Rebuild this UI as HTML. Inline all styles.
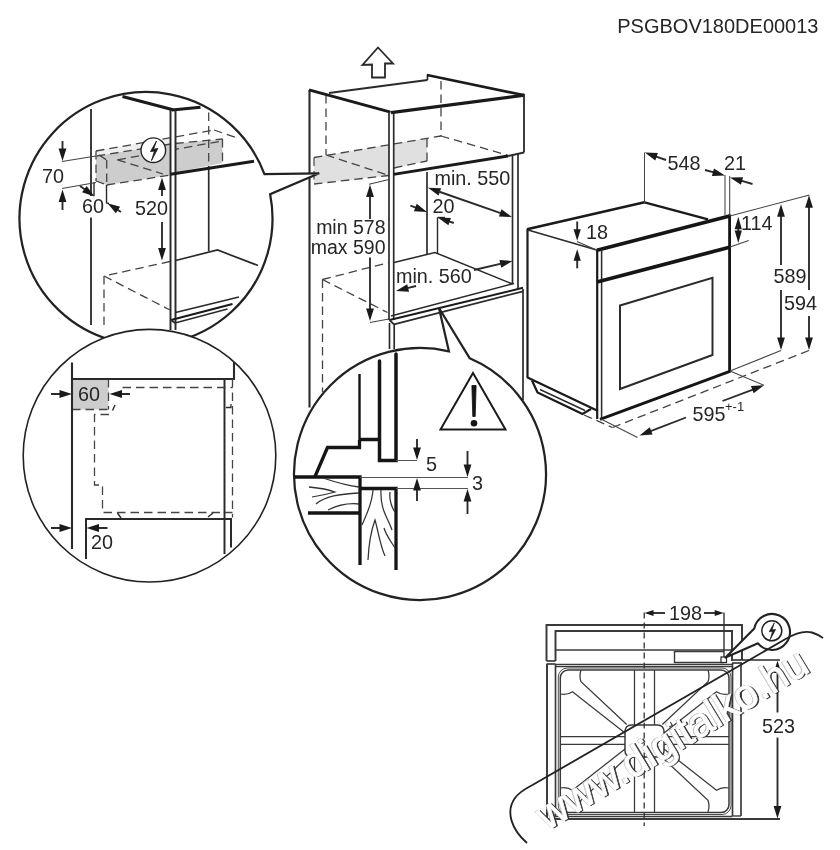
<!DOCTYPE html>
<html><head><meta charset="utf-8"><title>PSGBOV180DE00013</title>
<style>
html,body{margin:0;padding:0;background:#fff}
svg{display:block;filter:grayscale(1)}
text{font-family:"Liberation Sans",Arial,sans-serif}
</style></head><body>
<svg width="840" height="850" viewBox="0 0 840 850">
<rect x="0" y="0" width="840" height="850" fill="#fff"/>
<text x="818.5" y="33.3" font-size="20" text-anchor="end" fill="#262626" >PSGBOV180DE00013</text>
<polygon points="378,47.5 393,63.5 385,63.5 385,77.5 372,77.5 372,64.5 362.5,65" fill="none" stroke="#2a2a2a" stroke-width="1.82" stroke-linejoin="miter"/>
<polygon points="314,157.5 389,144.5 389,175.5 314,184" fill="#e0e0e0" stroke="none" stroke-width="0" stroke-linejoin="miter"/>
<polygon points="394,143.5 427,138.5 427,161 394,168" fill="#e0e0e0" stroke="none" stroke-width="0" stroke-linejoin="miter"/>
<line x1="314" y1="157.5" x2="441" y2="136" stroke="#444" stroke-width="1.3" stroke-dasharray="8.5 5" stroke-linecap="butt"/>
<line x1="314" y1="184" x2="389" y2="175.5" stroke="#444" stroke-width="1.3" stroke-dasharray="8.5 5" stroke-linecap="butt"/>
<line x1="314" y1="157.5" x2="314" y2="184" stroke="#555" stroke-width="1.3" stroke-dasharray="8.5 5" stroke-linecap="butt"/>
<line x1="427" y1="139" x2="427" y2="161" stroke="#444" stroke-width="1.3" stroke-dasharray="8.5 5" stroke-linecap="butt"/>
<line x1="394" y1="168" x2="427" y2="161" stroke="#444" stroke-width="1.3" stroke-dasharray="8.5 5" stroke-linecap="butt"/>
<line x1="326" y1="155" x2="389" y2="175.5" stroke="#444" stroke-width="1.3" stroke-dasharray="8.5 5" stroke-linecap="butt"/>
<line x1="441" y1="136" x2="507" y2="155" stroke="#444" stroke-width="1.3" stroke-dasharray="8.5 5" stroke-linecap="butt"/>
<line x1="326" y1="95" x2="326" y2="155" stroke="#444" stroke-width="1.3" stroke-dasharray="8.5 5" stroke-linecap="butt"/>
<line x1="441" y1="81" x2="441" y2="136" stroke="#444" stroke-width="1.3" stroke-dasharray="8.5 5" stroke-linecap="butt"/>
<line x1="309.5" y1="90" x2="309.5" y2="407.5" stroke="#2a2a2a" stroke-width="2.1" stroke-linecap="butt"/>
<line x1="309" y1="89.8" x2="390.5" y2="112.2" stroke="#1a1a1a" stroke-width="2.86" stroke-linecap="butt"/>
<line x1="329" y1="93" x2="427.5" y2="80" stroke="#2a2a2a" stroke-width="2.1" stroke-linecap="butt"/>
<line x1="427.5" y1="74.5" x2="427.5" y2="80" stroke="#2a2a2a" stroke-width="1.68" stroke-linecap="butt"/>
<line x1="427" y1="75" x2="524.5" y2="95.3" stroke="#1a1a1a" stroke-width="2.64" stroke-linecap="butt"/>
<line x1="391" y1="112.6" x2="524.5" y2="95.2" stroke="#1a1a1a" stroke-width="3.3" stroke-linecap="butt"/>
<line x1="524" y1="95" x2="524" y2="152.5" stroke="#2a2a2a" stroke-width="1.82" stroke-linecap="butt"/>
<line x1="389" y1="112" x2="389" y2="320" stroke="#2a2a2a" stroke-width="1.68" stroke-linecap="butt"/>
<line x1="393.7" y1="113" x2="393.7" y2="320" stroke="#2a2a2a" stroke-width="1.68" stroke-linecap="butt"/>
<line x1="389.5" y1="323" x2="389.5" y2="349" stroke="#2a2a2a" stroke-width="1.68" stroke-linecap="butt"/>
<line x1="394.2" y1="324" x2="394.2" y2="349" stroke="#2a2a2a" stroke-width="1.68" stroke-linecap="butt"/>
<line x1="393.5" y1="174.3" x2="508" y2="156" stroke="#1a1a1a" stroke-width="2.86" stroke-linecap="butt"/>
<line x1="508" y1="156" x2="524" y2="152.5" stroke="#2a2a2a" stroke-width="1.96" stroke-linecap="butt"/>
<line x1="512.5" y1="155" x2="512.5" y2="284" stroke="#2a2a2a" stroke-width="1.68" stroke-linecap="butt"/>
<line x1="518" y1="154" x2="518" y2="289" stroke="#2a2a2a" stroke-width="1.68" stroke-linecap="butt"/>
<line x1="523" y1="289" x2="523" y2="400" stroke="#2a2a2a" stroke-width="1.68" stroke-linecap="butt"/>
<line x1="427" y1="172" x2="427" y2="254" stroke="#2a2a2a" stroke-width="1.68" stroke-linecap="butt"/>
<line x1="437.5" y1="217.5" x2="437.5" y2="254" stroke="#2a2a2a" stroke-width="1.4" stroke-linecap="butt"/>
<line x1="437.5" y1="217.5" x2="445" y2="217.5" stroke="#2a2a2a" stroke-width="1.4" stroke-linecap="butt"/>
<polyline points="394,262.5 435,252.5 512.5,284" fill="none" stroke="#2a2a2a" stroke-width="1.54" stroke-linejoin="miter"/>
<line x1="391" y1="316" x2="514" y2="283.5" stroke="#2a2a2a" stroke-width="1.4" stroke-linecap="butt"/>
<line x1="389.5" y1="320" x2="523" y2="287.8" stroke="#1a1a1a" stroke-width="1.98" stroke-linecap="butt"/>
<line x1="394" y1="324.3" x2="523" y2="291.3" stroke="#2a2a2a" stroke-width="1.82" stroke-linecap="butt"/>
<line x1="389.5" y1="320" x2="394" y2="324.3" stroke="#2a2a2a" stroke-width="1.82" stroke-linecap="butt"/>
<line x1="322.5" y1="279.5" x2="389" y2="262.5" stroke="#444" stroke-width="1.3" stroke-dasharray="8.5 5" stroke-linecap="butt"/>
<line x1="322.5" y1="279.5" x2="387.5" y2="312.5" stroke="#444" stroke-width="1.3" stroke-dasharray="8.5 5" stroke-linecap="butt"/>
<line x1="322.5" y1="279.5" x2="322.5" y2="392" stroke="#444" stroke-width="1.3" stroke-dasharray="8.5 5" stroke-linecap="butt"/>
<line x1="369" y1="184.3" x2="389" y2="179.5" stroke="#444" stroke-width="1.05" stroke-linecap="butt"/>
<line x1="370" y1="322.5" x2="389" y2="319" stroke="#444" stroke-width="1.05" stroke-linecap="butt"/>
<line x1="370" y1="219" x2="370.0" y2="195.0" stroke="#2a2a2a" stroke-width="1.87" stroke-linecap="butt"/>
<polygon points="370.00,184.50 373.90,197.00 366.10,197.00" fill="#1a1a1a"/>
<line x1="370" y1="257.5" x2="370.0" y2="310.5" stroke="#2a2a2a" stroke-width="1.87" stroke-linecap="butt"/>
<polygon points="370.00,321.00 366.10,308.50 373.90,308.50" fill="#1a1a1a"/>
<text x="385.5" y="234" font-size="19.5" text-anchor="end" fill="#262626" >min 578</text>
<text x="385.5" y="254" font-size="19.5" text-anchor="end" fill="#262626" >max 590</text>
<text x="434.5" y="184.7" font-size="19.8" text-anchor="start" fill="#262626" >min. 550</text>
<polygon points="428.00,187.80 441.09,188.22 438.53,195.59" fill="#1a1a1a"/>
<line x1="437.92" y1="191.25" x2="502.08" y2="213.55" stroke="#2a2a2a" stroke-width="1.87" stroke-linecap="butt"/>
<polygon points="512.00,217.00 498.91,216.58 501.47,209.21" fill="#1a1a1a"/>
<text x="432.5" y="212.5" font-size="19.8" text-anchor="start" fill="#262626" >20</text>
<line x1="410.4" y1="205.6" x2="417.2" y2="208.22" stroke="#2a2a2a" stroke-width="1.87" stroke-linecap="butt"/>
<polygon points="427.00,212.00 413.93,211.14 416.74,203.86" fill="#1a1a1a"/>
<line x1="453.8" y1="223" x2="447.75" y2="220.96" stroke="#2a2a2a" stroke-width="1.87" stroke-linecap="butt"/>
<polygon points="437.80,217.60 450.89,217.90 448.40,225.29" fill="#1a1a1a"/>
<text x="396" y="282.5" font-size="19.8" text-anchor="start" fill="#262626" >min. 560</text>
<line x1="416" y1="286" x2="406.19" y2="288.45" stroke="#2a2a2a" stroke-width="1.87" stroke-linecap="butt"/>
<polygon points="396.00,291.00 407.18,284.18 409.07,291.75" fill="#1a1a1a"/>
<line x1="474" y1="270" x2="502.28" y2="263.39" stroke="#2a2a2a" stroke-width="1.87" stroke-linecap="butt"/>
<polygon points="512.50,261.00 501.22,267.64 499.44,260.05" fill="#1a1a1a"/>
<line x1="527.5" y1="229" x2="527.5" y2="378" stroke="#1a1a1a" stroke-width="2.2" stroke-linecap="butt"/>
<line x1="527" y1="229.3" x2="644.5" y2="202.3" stroke="#1a1a1a" stroke-width="2.64" stroke-linecap="butt"/>
<line x1="644.5" y1="202.3" x2="708" y2="219.3" stroke="#1a1a1a" stroke-width="2.42" stroke-linecap="butt"/>
<line x1="528" y1="230" x2="597.5" y2="250.3" stroke="#2a2a2a" stroke-width="1.54" stroke-linecap="butt"/>
<line x1="597" y1="250.3" x2="730.5" y2="215.8" stroke="#151515" stroke-width="3.74" stroke-linecap="butt"/>
<line x1="597.2" y1="250" x2="597.2" y2="419" stroke="#1a1a1a" stroke-width="2.2" stroke-linecap="butt"/>
<line x1="601.6" y1="250" x2="601.6" y2="419" stroke="#2a2a2a" stroke-width="1.54" stroke-linecap="butt"/>
<line x1="597" y1="282" x2="730.5" y2="247" stroke="#151515" stroke-width="3.74" stroke-linecap="butt"/>
<line x1="729.6" y1="214.5" x2="729.6" y2="371.5" stroke="#151515" stroke-width="2.86" stroke-linecap="butt"/>
<line x1="600" y1="419.3" x2="730.5" y2="371.2" stroke="#151515" stroke-width="2.86" stroke-linecap="butt"/>
<polygon points="620,305.5 712.5,277.8 712.5,355 620,389" fill="none" stroke="#2a2a2a" stroke-width="1.96" stroke-linejoin="miter"/>
<line x1="527.5" y1="377.5" x2="597" y2="410.5" stroke="#1a1a1a" stroke-width="2.2" stroke-linecap="butt"/>
<polyline points="532,380.5 537.5,392.5 582.5,414 591,409" fill="none" stroke="#1a1a1a" stroke-width="2.2" stroke-linejoin="miter"/>
<line x1="540" y1="389.5" x2="585" y2="410.5" stroke="#2a2a2a" stroke-width="1.4" stroke-linecap="butt"/>
<line x1="584" y1="415" x2="612.5" y2="427.5" stroke="#444" stroke-width="1.3" stroke-dasharray="8.5 5" stroke-linecap="butt"/>
<line x1="612.5" y1="427.5" x2="809" y2="350.5" stroke="#444" stroke-width="1.3" stroke-dasharray="8.5 5" stroke-linecap="butt"/>
<line x1="601" y1="419" x2="637.5" y2="437.5" stroke="#444" stroke-width="1.05" stroke-linecap="butt"/>
<line x1="730" y1="371" x2="764" y2="385.3" stroke="#444" stroke-width="1.05" stroke-linecap="butt"/>
<line x1="730" y1="371" x2="781" y2="350.5" stroke="#444" stroke-width="1.05" stroke-linecap="butt"/>
<line x1="730" y1="216" x2="809.5" y2="195" stroke="#444" stroke-width="1.05" stroke-linecap="butt"/>
<line x1="730" y1="247" x2="748.7" y2="240.6" stroke="#444" stroke-width="1.05" stroke-linecap="butt"/>
<line x1="644.5" y1="152.5" x2="644.5" y2="202" stroke="#444" stroke-width="1.05" stroke-linecap="butt"/>
<line x1="666" y1="160" x2="654.71" y2="156.06" stroke="#2a2a2a" stroke-width="1.87" stroke-linecap="butt"/>
<polygon points="644.80,152.60 657.89,153.04 655.32,160.40" fill="#1a1a1a"/>
<text x="667.5" y="169.5" font-size="19.8" text-anchor="start" fill="#262626" >548</text>
<line x1="705" y1="170" x2="714.88" y2="172.72" stroke="#2a2a2a" stroke-width="1.87" stroke-linecap="butt"/>
<polygon points="725.00,175.50 711.91,175.95 713.98,168.43" fill="#1a1a1a"/>
<line x1="725" y1="175" x2="725" y2="215.5" stroke="#444" stroke-width="1.05" stroke-linecap="butt"/>
<text x="724" y="169.5" font-size="19.8" text-anchor="start" fill="#262626" >21</text>
<line x1="729.7" y1="176" x2="729.7" y2="216" stroke="#444" stroke-width="1.05" stroke-linecap="butt"/>
<line x1="752.5" y1="184" x2="740.09" y2="180.41" stroke="#2a2a2a" stroke-width="1.87" stroke-linecap="butt"/>
<polygon points="730.00,177.50 743.09,177.22 740.93,184.72" fill="#1a1a1a"/>
<line x1="577.2" y1="221.5" x2="577.2" y2="231.3" stroke="#2a2a2a" stroke-width="1.87" stroke-linecap="butt"/>
<polygon points="577.20,240.80 573.60,229.30 580.80,229.30" fill="#1a1a1a"/>
<line x1="577.2" y1="268.3" x2="577.2" y2="258.7" stroke="#2a2a2a" stroke-width="1.87" stroke-linecap="butt"/>
<polygon points="577.20,249.20 580.80,260.70 573.60,260.70" fill="#1a1a1a"/>
<line x1="577" y1="241.5" x2="596" y2="249.7" stroke="#444" stroke-width="1.05" stroke-linecap="butt"/>
<text x="586" y="239.2" font-size="19.8" text-anchor="start" fill="#262626" >18</text>
<line x1="738.3" y1="230" x2="738.3" y2="227.3" stroke="#2a2a2a" stroke-width="1.87" stroke-linecap="butt"/>
<polygon points="738.30,216.80 741.90,229.30 734.70,229.30" fill="#1a1a1a"/>
<line x1="738.3" y1="230" x2="738.3" y2="232.5" stroke="#2a2a2a" stroke-width="1.87" stroke-linecap="butt"/>
<polygon points="738.30,243.00 734.70,230.50 741.90,230.50" fill="#1a1a1a"/>
<text x="741" y="230" font-size="19.8" text-anchor="start" fill="#262626" >114</text>
<line x1="781" y1="265" x2="781.0" y2="214.8" stroke="#2a2a2a" stroke-width="1.87" stroke-linecap="butt"/>
<polygon points="781.00,204.30 784.90,216.80 777.10,216.80" fill="#1a1a1a"/>
<line x1="781" y1="290" x2="781.0" y2="339.5" stroke="#2a2a2a" stroke-width="1.87" stroke-linecap="butt"/>
<polygon points="781.00,350.00 777.10,337.50 784.90,337.50" fill="#1a1a1a"/>
<text x="773.5" y="282.5" font-size="19.8" text-anchor="start" fill="#262626" >589</text>
<line x1="809" y1="290" x2="809.0" y2="205.8" stroke="#2a2a2a" stroke-width="1.87" stroke-linecap="butt"/>
<polygon points="809.00,195.30 812.90,207.80 805.10,207.80" fill="#1a1a1a"/>
<line x1="809" y1="316" x2="809.0" y2="339.5" stroke="#2a2a2a" stroke-width="1.87" stroke-linecap="butt"/>
<polygon points="809.00,350.00 805.10,337.50 812.90,337.50" fill="#1a1a1a"/>
<text x="784" y="310" font-size="19.8" text-anchor="start" fill="#262626" >594</text>
<line x1="686" y1="417.5" x2="649.29" y2="431.71" stroke="#2a2a2a" stroke-width="1.87" stroke-linecap="butt"/>
<polygon points="639.50,435.50 649.75,427.35 652.56,434.62" fill="#1a1a1a"/>
<line x1="722.5" y1="401" x2="754.18" y2="389.02" stroke="#2a2a2a" stroke-width="1.87" stroke-linecap="butt"/>
<polygon points="764.00,385.30 753.69,393.37 750.93,386.08" fill="#1a1a1a"/>
<text x="692.5" y="421" font-size="19.8" text-anchor="start" fill="#262626" >595</text>
<text x="725" y="411.3" font-size="13" text-anchor="start" fill="#262626" >+-1</text>
<clipPath id="cp1"><circle cx="146" cy="218.5" r="126.5"/></clipPath>
<path d="M 264.45,174.1 A 126.5 126.5 0 1 0 270.14,194.17 L 319.2,173.3 Z" fill="#fff" stroke="#222" stroke-width="2.24" />
<g clip-path="url(#cp1)">
<polygon points="96,156 106.7,160 106.7,185 96,181" fill="#cdcdcd" stroke="none" stroke-width="0" stroke-linejoin="miter"/>
<polygon points="96,156 171,143.5 171,175 106.7,185 106.7,160" fill="#cdcdcd" stroke="none" stroke-width="0" stroke-linejoin="miter"/>
<polygon points="175.3,143.5 222.5,139 222.5,163 175.3,172.5" fill="#cdcdcd" stroke="none" stroke-width="0" stroke-linejoin="miter"/>
<polygon points="96,151 171,137.5 171,143.5 96,156" fill="#efefef" stroke="none" stroke-width="0" stroke-linejoin="miter"/>
<line x1="96" y1="151" x2="214" y2="130" stroke="#444" stroke-width="1.3" stroke-dasharray="8.5 5" stroke-linecap="butt"/>
<line x1="214" y1="130" x2="236" y2="137.5" stroke="#444" stroke-width="1.3" stroke-dasharray="8.5 5" stroke-linecap="butt"/>
<line x1="96.7" y1="156" x2="171" y2="144" stroke="#444" stroke-width="1.3" stroke-dasharray="8.5 5" stroke-linecap="butt"/>
<line x1="117.5" y1="159.8" x2="222" y2="141" stroke="#444" stroke-width="1.3" stroke-dasharray="8.5 5" stroke-linecap="butt"/>
<line x1="117.5" y1="159.8" x2="163" y2="174" stroke="#444" stroke-width="1.3" stroke-dasharray="8.5 5" stroke-linecap="butt"/>
<line x1="99" y1="155" x2="106.7" y2="160" stroke="#444" stroke-width="1.3" stroke-dasharray="8.5 5" stroke-linecap="butt"/>
<line x1="106.7" y1="160" x2="106.7" y2="185" stroke="#444" stroke-width="1.3" stroke-dasharray="8.5 5" stroke-linecap="butt"/>
<line x1="96" y1="151" x2="96" y2="181" stroke="#444" stroke-width="1.3" stroke-dasharray="8.5 5" stroke-linecap="butt"/>
<line x1="106.7" y1="185" x2="171" y2="175" stroke="#444" stroke-width="1.3" stroke-dasharray="8.5 5" stroke-linecap="butt"/>
<line x1="96" y1="181" x2="106.7" y2="185" stroke="#444" stroke-width="1.3" stroke-dasharray="8.5 5" stroke-linecap="butt"/>
<line x1="175.3" y1="143.5" x2="222.5" y2="139" stroke="#444" stroke-width="1.3" stroke-dasharray="8.5 5" stroke-linecap="butt"/>
<line x1="222.5" y1="139" x2="222.5" y2="163" stroke="#444" stroke-width="1.3" stroke-dasharray="8.5 5" stroke-linecap="butt"/>
<line x1="208.7" y1="112.5" x2="208.7" y2="166" stroke="#444" stroke-width="1.3" stroke-dasharray="8.5 5" stroke-linecap="butt"/>
<rect x="171" y="111" width="4" height="215" fill="#fff"/>
<line x1="91" y1="109" x2="91" y2="196" stroke="#2a2a2a" stroke-width="1.82" stroke-linecap="butt"/>
<line x1="91" y1="217.5" x2="91" y2="325" stroke="#2a2a2a" stroke-width="1.82" stroke-linecap="butt"/>
<line x1="122.5" y1="96.5" x2="173" y2="109.8" stroke="#1a1a1a" stroke-width="3.08" stroke-linecap="butt"/>
<line x1="172" y1="110" x2="200.5" y2="107.3" stroke="#1a1a1a" stroke-width="3.08" stroke-linecap="butt"/>
<line x1="170.5" y1="110" x2="170.5" y2="330" stroke="#2a2a2a" stroke-width="1.96" stroke-linecap="butt"/>
<line x1="175.5" y1="110" x2="175.5" y2="330" stroke="#2a2a2a" stroke-width="1.96" stroke-linecap="butt"/>
<line x1="208.7" y1="166" x2="208.7" y2="251" stroke="#2a2a2a" stroke-width="1.68" stroke-linecap="butt"/>
<line x1="170.5" y1="174.3" x2="254" y2="161.3" stroke="#1a1a1a" stroke-width="3.08" stroke-linecap="butt"/>
<polyline points="175.5,260.5 217.5,250 258,265.5" fill="none" stroke="#2a2a2a" stroke-width="1.68" stroke-linejoin="miter"/>
<line x1="170" y1="261.5" x2="104" y2="276" stroke="#444" stroke-width="1.3" stroke-dasharray="8.5 5" stroke-linecap="butt"/>
<line x1="104" y1="276" x2="170" y2="310" stroke="#444" stroke-width="1.3" stroke-dasharray="8.5 5" stroke-linecap="butt"/>
<line x1="104" y1="276" x2="104" y2="325" stroke="#444" stroke-width="1.3" stroke-dasharray="8.5 5" stroke-linecap="butt"/>
<line x1="175.5" y1="312.5" x2="239" y2="297" stroke="#2a2a2a" stroke-width="1.68" stroke-linecap="butt"/>
<line x1="171" y1="320" x2="232.5" y2="304" stroke="#1a1a1a" stroke-width="2.24" stroke-linecap="butt"/>
<line x1="175" y1="323" x2="227.5" y2="309" stroke="#2a2a2a" stroke-width="1.68" stroke-linecap="butt"/>
<line x1="171" y1="320" x2="175" y2="323" stroke="#2a2a2a" stroke-width="1.68" stroke-linecap="butt"/>
<line x1="62" y1="161.5" x2="96" y2="156" stroke="#444" stroke-width="1.26" stroke-linecap="butt"/>
<line x1="62" y1="188.5" x2="96" y2="182.5" stroke="#444" stroke-width="1.26" stroke-linecap="butt"/>
<line x1="62.5" y1="141" x2="62.5" y2="150.5" stroke="#2a2a2a" stroke-width="1.87" stroke-linecap="butt"/>
<polygon points="62.50,161.00 58.60,148.50 66.40,148.50" fill="#1a1a1a"/>
<line x1="62.5" y1="210" x2="62.5" y2="200.0" stroke="#2a2a2a" stroke-width="1.87" stroke-linecap="butt"/>
<polygon points="62.50,189.50 66.40,202.00 58.60,202.00" fill="#1a1a1a"/>
<text x="42" y="183" font-size="19.8" text-anchor="start" fill="#262626" >70</text>
<line x1="94" y1="182.5" x2="94" y2="196" stroke="#2a2a2a" stroke-width="1.4" stroke-linecap="butt"/>
<polyline points="106.5,185 106.5,203 109,203.5" fill="none" stroke="#2a2a2a" stroke-width="1.4" stroke-linejoin="miter"/>
<line x1="80" y1="186" x2="86.0" y2="190.34" stroke="#2a2a2a" stroke-width="1.87" stroke-linecap="butt"/>
<polygon points="94.50,196.50 82.09,192.33 86.66,186.01" fill="#1a1a1a"/>
<line x1="121" y1="212" x2="116.33" y2="208.99" stroke="#2a2a2a" stroke-width="1.87" stroke-linecap="butt"/>
<polygon points="107.50,203.30 120.12,206.79 115.89,213.35" fill="#1a1a1a"/>
<text x="82" y="213" font-size="19.8" text-anchor="start" fill="#262626" >60</text>
<line x1="162" y1="196" x2="162.0" y2="188.0" stroke="#2a2a2a" stroke-width="1.87" stroke-linecap="butt"/>
<polygon points="162.00,177.50 165.90,190.00 158.10,190.00" fill="#1a1a1a"/>
<line x1="162" y1="222" x2="162.0" y2="250.0" stroke="#2a2a2a" stroke-width="1.87" stroke-linecap="butt"/>
<polygon points="162.00,260.50 158.10,248.00 165.90,248.00" fill="#1a1a1a"/>
<text x="135" y="215" font-size="19.8" text-anchor="start" fill="#262626" >520</text>
<circle cx="153.3" cy="150.2" r="12.3" fill="#fff" stroke="#222" stroke-width="1.4"/>
<polygon points="156.5,141 150.5,151.5 154.5,151 151.5,160.5 157.8,148.5 153.5,149.3" fill="#1a1a1a" stroke="#1a1a1a" stroke-width="0.84" stroke-linejoin="miter"/>
</g>
<clipPath id="cp2"><circle cx="149.5" cy="455.7" r="126.3"/></clipPath>
<circle cx="149.5" cy="455.7" r="126.3" fill="#fff" stroke="#222" stroke-width="1.6"/>
<g clip-path="url(#cp2)">
<rect x="72" y="379" width="36.5" height="30.5" fill="#cdcdcd"/>
<line x1="108.5" y1="379" x2="108.5" y2="409.5" stroke="#444" stroke-width="1.3" stroke-dasharray="8.5 5" stroke-linecap="butt"/>
<line x1="72" y1="409.5" x2="108.5" y2="409.5" stroke="#444" stroke-width="1.3" stroke-dasharray="8.5 5" stroke-linecap="butt"/>
<line x1="72" y1="362.5" x2="72" y2="549" stroke="#2a2a2a" stroke-width="2.1" stroke-linecap="butt"/>
<polyline points="72,379 234,379 234,360" fill="none" stroke="#2a2a2a" stroke-width="2.1" stroke-linejoin="miter"/>
<line x1="224.5" y1="379" x2="224.5" y2="554" stroke="#2a2a2a" stroke-width="1.96" stroke-linecap="butt"/>
<line x1="122.5" y1="387.5" x2="232.5" y2="387.5" stroke="#444" stroke-width="1.3" stroke-dasharray="8.5 5" stroke-linecap="butt"/>
<line x1="232.5" y1="379" x2="232.5" y2="517.5" stroke="#444" stroke-width="1.3" stroke-dasharray="8.5 5" stroke-linecap="butt"/>
<polyline points="226,407.5 231,407.5 231,404" fill="none" stroke="#2a2a2a" stroke-width="1.26" stroke-linejoin="miter"/>
<line x1="115" y1="405" x2="112.5" y2="410.5" stroke="#2a2a2a" stroke-width="1.4" stroke-linecap="butt"/>
<polyline points="109,414.5 94.5,414.5 94.5,485 102.5,485 102.5,512.5 232.5,512.5" fill="none" stroke="#444" stroke-width="1.3" stroke-dasharray="8.5 5" stroke-linejoin="miter"/>
<line x1="117.5" y1="513" x2="121" y2="518" stroke="#2a2a2a" stroke-width="1.4" stroke-linecap="butt"/>
<line x1="213" y1="513" x2="208" y2="517" stroke="#2a2a2a" stroke-width="1.4" stroke-linecap="butt"/>
<polyline points="86,559 86,519 231,519 231,547.5" fill="none" stroke="#2a2a2a" stroke-width="1.96" stroke-linejoin="miter"/>
<line x1="51" y1="394" x2="61.5" y2="394.0" stroke="#2a2a2a" stroke-width="1.87" stroke-linecap="butt"/>
<polygon points="72.00,394.00 59.50,397.90 59.50,390.10" fill="#1a1a1a"/>
<line x1="130" y1="394" x2="120.0" y2="394.0" stroke="#2a2a2a" stroke-width="1.87" stroke-linecap="butt"/>
<polygon points="109.50,394.00 122.00,390.10 122.00,397.90" fill="#1a1a1a"/>
<text x="78" y="400.5" font-size="19.8" text-anchor="start" fill="#262626" >60</text>
<line x1="51" y1="528" x2="61.5" y2="528.0" stroke="#2a2a2a" stroke-width="1.87" stroke-linecap="butt"/>
<polygon points="72.00,528.00 59.50,531.90 59.50,524.10" fill="#1a1a1a"/>
<line x1="107.5" y1="528" x2="97.0" y2="528.0" stroke="#2a2a2a" stroke-width="1.87" stroke-linecap="butt"/>
<polygon points="86.50,528.00 99.00,524.10 99.00,531.90" fill="#1a1a1a"/>
<text x="91" y="549" font-size="19.8" text-anchor="start" fill="#262626" >20</text>
</g>
<clipPath id="cp3"><circle cx="420" cy="474" r="126"/></clipPath>
<path d="M 469.76,358.24 A 126 126 0 1 1 448.91,351.36 L 439,308 Z" fill="#fff" stroke="#222" stroke-width="2.24" />
<g clip-path="url(#cp3)">
<polyline points="359.5,374 359.5,447.5" fill="none" stroke="#151515" stroke-width="2.42" stroke-linejoin="miter"/>
<polyline points="359.5,440 359.5,447.5 327.5,447.5 315,476.5" fill="none" stroke="#151515" stroke-width="3.3" stroke-linejoin="miter"/>
<line x1="359.5" y1="439.5" x2="379.5" y2="439.5" stroke="#151515" stroke-width="3.3" stroke-linecap="butt"/>
<polyline points="379.5,361 379.5,460.5 396,460.5 396,354" fill="none" stroke="#151515" stroke-width="3.5" stroke-linecap="round"/>
<polyline points="294,477 360,477 360,565" fill="none" stroke="#151515" stroke-width="3.3" stroke-linejoin="miter"/>
<line x1="308" y1="513" x2="360" y2="513" stroke="#151515" stroke-width="3.3" stroke-linecap="butt"/>
<polyline points="360,488.5 396,488.5 396,570" fill="none" stroke="#151515" stroke-width="3.3" stroke-linejoin="miter"/>
<line x1="396" y1="460.5" x2="417" y2="460.5" stroke="#555" stroke-width="1.12" stroke-linecap="butt"/>
<line x1="360" y1="477.5" x2="468" y2="477.5" stroke="#555" stroke-width="1.12" stroke-linecap="butt"/>
<line x1="396" y1="488.5" x2="468" y2="488.5" stroke="#555" stroke-width="1.12" stroke-linecap="butt"/>
<path d="M 323,478 C 335,482 350,486 359,487" fill="none" stroke="#333" stroke-width="1.26" />
<path d="M 309,487 C 320,488 330,490 335,492 C 328,494 318,496 312,497" fill="none" stroke="#333" stroke-width="1.26" />
<path d="M 316,504 C 325,496 340,494 359,493" fill="none" stroke="#333" stroke-width="1.26" />
<path d="M 328,510 C 338,505 350,503 359,504" fill="none" stroke="#333" stroke-width="1.26" />
<path d="M 373,490 C 372,505 366,515 362,525" fill="none" stroke="#333" stroke-width="1.26" />
<path d="M 381,490 C 380,510 388,518 392,530" fill="none" stroke="#333" stroke-width="1.26" />
<path d="M 390,492 C 389,500 392,508 395,512" fill="none" stroke="#333" stroke-width="1.26" />
<path d="M 368,560 C 369,540 372,528 375,520 C 378,530 380,545 385,556" fill="none" stroke="#333" stroke-width="1.26" />
<path d="M 395,548 C 390,540 386,535 384,528" fill="none" stroke="#333" stroke-width="1.26" />
<line x1="417" y1="439" x2="417.0" y2="449.5" stroke="#2a2a2a" stroke-width="1.87" stroke-linecap="butt"/>
<polygon points="417.00,460.00 413.10,447.50 420.90,447.50" fill="#1a1a1a"/>
<line x1="417" y1="501" x2="417.0" y2="488.5" stroke="#2a2a2a" stroke-width="1.87" stroke-linecap="butt"/>
<polygon points="417.00,478.00 420.90,490.50 413.10,490.50" fill="#1a1a1a"/>
<line x1="467.5" y1="451" x2="467.5" y2="466.5" stroke="#2a2a2a" stroke-width="1.87" stroke-linecap="butt"/>
<polygon points="467.50,477.00 463.60,464.50 471.40,464.50" fill="#1a1a1a"/>
<line x1="467.5" y1="514" x2="467.5" y2="499.5" stroke="#2a2a2a" stroke-width="1.87" stroke-linecap="butt"/>
<polygon points="467.50,489.00 471.40,501.50 463.60,501.50" fill="#1a1a1a"/>
<text x="426" y="471" font-size="19.8" text-anchor="start" fill="#262626" >5</text>
<text x="472" y="489.5" font-size="19.8" text-anchor="start" fill="#262626" >3</text>
<polygon points="473,373 505.5,429.5 440.5,429.5" fill="none" stroke="#1a1a1a" stroke-width="1.98" stroke-linejoin="miter"/>
<polygon points="471.9,385.5 476.1,385.5 475.2,416.5 472.8,416.5" fill="#151515" stroke="#151515" stroke-width="0.84" stroke-linejoin="miter"/>
<circle cx="474" cy="423.3" r="3.3" fill="#151515"/>
</g>
<polyline points="546.5,661 546.5,625 742,625 742,660" fill="none" stroke="#3a3a3a" stroke-width="1.96" stroke-linejoin="miter"/>
<polyline points="555.5,661 555.5,631 732,631 732,661" fill="none" stroke="#3a3a3a" stroke-width="1.96" stroke-linejoin="miter"/>
<line x1="546.5" y1="661" x2="555.5" y2="661" stroke="#3a3a3a" stroke-width="1.68" stroke-linecap="butt"/>
<line x1="546.5" y1="664" x2="555.5" y2="664" stroke="#3a3a3a" stroke-width="1.68" stroke-linecap="butt"/>
<line x1="555.5" y1="650" x2="732" y2="650" stroke="#3a3a3a" stroke-width="1.26" stroke-linecap="butt"/>
<line x1="555.5" y1="664.3" x2="732" y2="664.3" stroke="#3a3a3a" stroke-width="1.26" stroke-linecap="butt"/>
<line x1="555.5" y1="666.5" x2="732" y2="666.5" stroke="#3a3a3a" stroke-width="1.26" stroke-linecap="butt"/>
<line x1="732" y1="660" x2="742" y2="660" stroke="#3a3a3a" stroke-width="1.68" stroke-linecap="butt"/>
<line x1="732" y1="663" x2="742" y2="663" stroke="#3a3a3a" stroke-width="1.68" stroke-linecap="butt"/>
<line x1="547" y1="664" x2="547" y2="819" stroke="#3a3a3a" stroke-width="1.96" stroke-linecap="butt"/>
<line x1="555.5" y1="664" x2="555.5" y2="817" stroke="#3a3a3a" stroke-width="1.68" stroke-linecap="butt"/>
<line x1="732.5" y1="663" x2="732.5" y2="816" stroke="#3a3a3a" stroke-width="1.68" stroke-linecap="butt"/>
<line x1="741" y1="663" x2="741" y2="816" stroke="#3a3a3a" stroke-width="1.68" stroke-linecap="butt"/>
<line x1="732.5" y1="816" x2="741" y2="816" stroke="#3a3a3a" stroke-width="1.4" stroke-linecap="butt"/>
<line x1="546.5" y1="819" x2="780" y2="819" stroke="#3a3a3a" stroke-width="1.96" stroke-linecap="butt"/>
<line x1="555.5" y1="816.5" x2="732.5" y2="816.5" stroke="#3a3a3a" stroke-width="1.26" stroke-linecap="butt"/>
<polyline points="724,651.5 674.5,651.5 674.5,662.5 724,662.5" fill="none" stroke="#3a3a3a" stroke-width="1.4" stroke-linejoin="miter"/>
<rect x="721" y="657" width="5.5" height="5.5" fill="#fff" stroke="#222" stroke-width="1.2"/>
<rect x="560.3" y="670" width="168.7" height="142.5" rx="8" ry="8" fill="none" stroke="#3a3a3a" stroke-width="1.5"/>
<rect x="558.3" y="668" width="172.7" height="146.5" rx="9" ry="9" fill="none" stroke="#3a3a3a" stroke-width="0.9"/>
<line x1="634.5" y1="670" x2="634.5" y2="725" stroke="#3a3a3a" stroke-width="1.26" stroke-linecap="butt"/>
<line x1="634.5" y1="757" x2="634.5" y2="812.5" stroke="#3a3a3a" stroke-width="1.26" stroke-linecap="butt"/>
<line x1="654.5" y1="670" x2="654.5" y2="725" stroke="#3a3a3a" stroke-width="1.26" stroke-linecap="butt"/>
<line x1="654.5" y1="757" x2="654.5" y2="812.5" stroke="#3a3a3a" stroke-width="1.26" stroke-linecap="butt"/>
<line x1="560.3" y1="736.7" x2="625" y2="736.7" stroke="#3a3a3a" stroke-width="1.26" stroke-linecap="butt"/>
<line x1="664" y1="736.7" x2="729" y2="736.7" stroke="#3a3a3a" stroke-width="1.26" stroke-linecap="butt"/>
<line x1="560.3" y1="744.3" x2="625" y2="744.3" stroke="#3a3a3a" stroke-width="1.26" stroke-linecap="butt"/>
<line x1="664" y1="744.3" x2="729" y2="744.3" stroke="#3a3a3a" stroke-width="1.26" stroke-linecap="butt"/>
<rect x="625" y="725" width="39" height="32" rx="6" ry="6" fill="none" stroke="#3a3a3a" stroke-width="1.5"/>
<path d="M 581.0,670.0 Q 579.0,676.0 581.0,681.7 L 626.7,724.5" fill="none" stroke="#3a3a3a" stroke-width="1.26" />
<path d="M 560.3,694.0 Q 567.0,695.5 572.5,691.7 L 625.0,733.0" fill="none" stroke="#3a3a3a" stroke-width="1.26" />
<path d="M 581.0,812.0 Q 579.0,806.0 581.0,800.3 L 626.7,757.5" fill="none" stroke="#3a3a3a" stroke-width="1.26" />
<path d="M 560.3,788.0 Q 567.0,786.5 572.5,790.3 L 625.0,749.0" fill="none" stroke="#3a3a3a" stroke-width="1.26" />
<path d="M 708.0,670.0 Q 710.0,676.0 708.0,681.7 L 662.3,724.5" fill="none" stroke="#3a3a3a" stroke-width="1.26" />
<path d="M 728.7,694.0 Q 722.0,695.5 716.5,691.7 L 664.0,733.0" fill="none" stroke="#3a3a3a" stroke-width="1.26" />
<path d="M 708.0,812.0 Q 710.0,806.0 708.0,800.3 L 662.3,757.5" fill="none" stroke="#3a3a3a" stroke-width="1.26" />
<path d="M 728.7,788.0 Q 722.0,786.5 716.5,790.3 L 664.0,749.0" fill="none" stroke="#3a3a3a" stroke-width="1.26" />
<line x1="644.2" y1="612.5" x2="644.2" y2="826" stroke="#333" stroke-width="1.3" stroke-dasharray="6 4" stroke-linecap="butt"/>
<line x1="724" y1="612.5" x2="724" y2="657" stroke="#333" stroke-width="1.4" stroke-linecap="butt"/>
<line x1="665" y1="613" x2="651.5" y2="613.0" stroke="#2a2a2a" stroke-width="1.87" stroke-linecap="butt"/>
<polygon points="644.50,613.00 653.50,610.00 653.50,616.00" fill="#1a1a1a"/>
<line x1="704" y1="613" x2="716.7" y2="613.0" stroke="#2a2a2a" stroke-width="1.87" stroke-linecap="butt"/>
<polygon points="723.70,613.00 714.70,616.00 714.70,610.00" fill="#1a1a1a"/>
<text x="669" y="619.5" font-size="19.8" text-anchor="start" fill="#262626" >198</text>
<line x1="742" y1="660" x2="780" y2="660" stroke="#2a2a2a" stroke-width="1.26" stroke-linecap="butt"/>
<line x1="777.5" y1="712.5" x2="777.5" y2="671.0" stroke="#2a2a2a" stroke-width="1.87" stroke-linecap="butt"/>
<polygon points="777.50,660.50 781.40,673.00 773.60,673.00" fill="#1a1a1a"/>
<line x1="777.5" y1="737.5" x2="777.5" y2="808.0" stroke="#2a2a2a" stroke-width="1.87" stroke-linecap="butt"/>
<polygon points="777.50,818.50 773.60,806.00 781.40,806.00" fill="#1a1a1a"/>
<text x="762" y="732.5" font-size="19.8" text-anchor="start" fill="#262626" >523</text>
<path d="M 725.5,657.5 L 754.3,628.5 A 18 18 0 1 1 758,643.3 Z" fill="#fff" stroke="#222" stroke-width="2.09" stroke-linejoin="round"/>
<circle cx="771.8" cy="630.8" r="10" fill="#fff" stroke="#222" stroke-width="1.5"/>
<polygon points="774.3,622.8 769.2,631.8 772.6,631.3 770.2,639.5 775.6,629.4 772,630" fill="#1a1a1a" stroke="#1a1a1a" stroke-width="0.7" stroke-linejoin="miter"/>
<path d="M 527,843 C 512,830 505,812 515,798 C 520,791 527,788 532.5,785 L 786,638.8 C 794,634 803,630 812,632.5 C 817,634 820,636 823,638" fill="none" stroke="#222" stroke-width="1.82" />
<text x="1.3" y="1.0" transform="translate(547,831) rotate(-31.2)" font-size="41.5" fill="#333" stroke="#333" stroke-width="0.6">www.digitalko.hu</text>
<text x="-0.9" y="-0.7" transform="translate(547,831) rotate(-31.2)" font-size="41.5" fill="#bbb" stroke="#bbb" stroke-width="0.4">www.digitalko.hu</text>
<text x="0" y="0" transform="translate(547,831) rotate(-31.2)" font-size="41.5" fill="#fff" stroke="#fff" stroke-width="0.7">www.digitalko.hu</text>
</svg>
</body></html>
